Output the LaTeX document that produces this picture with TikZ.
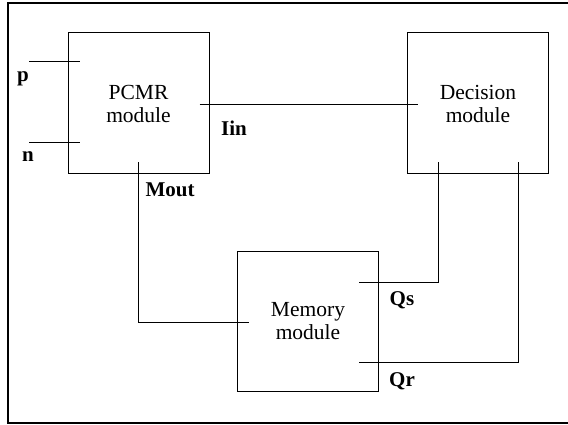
\documentclass[tikz,border=0pt]{standalone}
\usepackage{fontspec}
\setmainfont{Liberation Serif}
\usetikzlibrary{positioning}
\tikzset{module/.style={draw, line width=1pt, minimum width=141pt,
    minimum height=141pt, align=center, inner sep=0pt,
    font=\fontsize{21.5}{23}\selectfont},
  sig/.style={font=\fontsize{21}{22}\selectfont\bfseries, inner sep=0pt},
  wire/.style={line width=1pt}}

\begin{document}
\begin{tikzpicture}[x=1pt, y=-1pt]
  \useasboundingbox (0,0) rectangle (568,425);
  % frame, its right side falls off the page
  \draw[line width=1.8pt] (568,3) -- (8,3) -- (8,423) -- (568,423);

  \node[module] (pcmr) at (138.5,103.5) {PCMR\\module};
  \node[module] (decision) at (478,103.5) {Decision\\module};
  \node[module, minimum height=140pt] (memory) at (308,321) {Memory\\module};

  % input stubs
  \coordinate (pin) at (29,62);
  \coordinate (nin) at (29,143);
  \draw[wire] (pin) -- ([xshift=12pt]pin -| pcmr.west);
  \draw[wire] (nin) -- ([xshift=12pt]nin -| pcmr.west);

  % connections
  \draw[wire] ([xshift=-10pt,yshift=-1.5pt]pcmr.east) -- ([xshift=11pt,yshift=-1.5pt]decision.west);
  \draw[wire] ([yshift=12pt]pcmr.south) |- ([xshift=12pt,yshift=-1pt]memory.west);
  \draw[wire] ([xshift=-20pt,yshift=39pt]memory.east) -| ([xshift=-40pt,yshift=12pt]decision.south);
  \draw[wire] ([xshift=-20pt,yshift=-41pt]memory.east) -| ([xshift=40pt,yshift=12pt]decision.south);

  % signal names
  \node[sig] (p) at (23,79) {p};
  \node[sig] (n) at (28,157) {n};
  \node[sig] (iin) at (234,128) {Iin};
  \node[sig] (mout) at (170,190) {Mout};
  \node[sig] (qs) at (402,300) {Qs};
  \node[sig] (qr) at (402,381) {Qr};
\end{tikzpicture}
\end{document}
